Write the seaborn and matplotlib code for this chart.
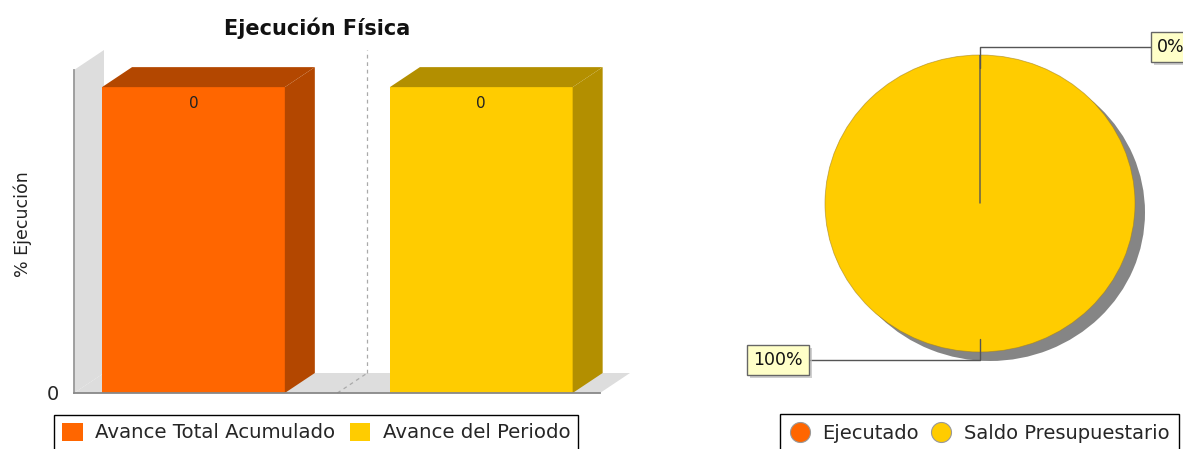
import numpy as np
import pandas as pd
import seaborn as sns
import matplotlib.pyplot as plt
import matplotlib.colors as mcolors
import matplotlib.patheffects as pe
from matplotlib.patches import Polygon, Patch, Circle
from matplotlib.lines import Line2D

# -------------------- Datos --------------------
series = ['Avance Total Acumulado', 'Avance del Periodo']
avance = [0, 0]                  # valor que se imprime sobre cada barra
altura_dibujada = [1.0, 1.0]     # el grafico original pinta las barras a tope (eje sin rango)
colores_barras = ['#FF6600', '#FFCC00']

conceptos = ['Ejecutado', 'Saldo Presupuestario']
porcentajes = [0, 100]
colores_pie = ['#FF6600', '#FFCC00']

# -------------------- Figura --------------------
W, H = 1183, 449
sns.set_style('white')
plt.rcParams['font.family'] = ['DejaVu Sans']
fig = plt.figure(figsize=(W / 100, H / 100), dpi=100)


def px_rect(x0, y0, x1, y1):
    # caja en pixeles (origen arriba a la izquierda) -> fraccion de figura
    return [x0 / W, 1 - y1 / H, (x1 - x0) / W, (y1 - y0) / H]


def oscurecer(c, f=0.7):
    r, g, b = mcolors.to_rgb(c)
    return (r * f, g * f, b * f)


# -------------------- Barras 3D --------------------
ax = fig.add_axes(px_rect(74, 70, 600, 393))
df = pd.DataFrame({'categoria': [''] * len(series), 'serie': series, 'altura': altura_dibujada})
sns.barplot(data=df, x='categoria', y='altura', hue='serie', palette=colores_barras,
            width=0.8, gap=0.365, saturation=1, legend=False, ax=ax, zorder=2,
            linewidth=0, edgecolor='none')
ax.set_xlim(-0.366, 0.365)
ax.set_ylim(0, 1.056)

# desplazamiento de profundidad: 30 px a la derecha, 20 px hacia arriba
x0, x1 = ax.get_xlim()
y0, y1 = ax.get_ylim()
pos = ax.get_position()
dx = 30 * (x1 - x0) / (pos.width * W)
dy = 20 * (y1 - y0) / (pos.height * H)

ax.add_patch(Polygon([(x0, y0), (x0, y1), (x0 + dx, y1 + dy), (x0 + dx, y0 + dy)],
                     fc='#DDDDDD', ec='none', clip_on=False, zorder=0.5))
ax.add_patch(Polygon([(x0, y0), (x1, y0), (x1 + dx, y0 + dy), (x0 + dx, y0 + dy)],
                     fc='#DDDDDD', ec='none', clip_on=False, zorder=0.5))

cat_x = ax.get_xticks()[0]
ax.plot([cat_x + dx, cat_x + dx], [y0 + dy, y1 + dy], ls=(0, (3, 3)), color='#AAAAAA',
        lw=0.9, clip_on=False, zorder=0.6)
ax.plot([cat_x, cat_x + dx], [y0, y0 + dy], ls=(0, (3, 3)), color='#AAAAAA',
        lw=0.9, clip_on=False, zorder=0.6)

for cont, color, v in zip(ax.containers, colores_barras, avance):
    osc = oscurecer(color)
    for rect in cont:
        bx0 = rect.get_x()
        bx1 = bx0 + rect.get_width()
        h = rect.get_height()
        ax.add_patch(Polygon([(bx1, 0), (bx1 + dx, dy), (bx1 + dx, h + dy), (bx1, h)],
                             fc=osc, ec='none', clip_on=False, zorder=2))
        ax.add_patch(Polygon([(bx0, h), (bx0 + dx, h + dy), (bx1 + dx, h + dy), (bx1, h)],
                             fc=osc, ec='none', clip_on=False, zorder=2))
    ax.bar_label(cont, labels=[str(v)], padding=-17, fontsize=11, color='#222222')

sns.despine(ax=ax, top=True, right=True)
ax.spines['bottom'].set_color('#888888')
ax.spines['bottom'].set_linewidth(1.3)
ax.spines['left'].set_color('#999999')
ax.spines['left'].set_linewidth(1.3)
ax.set_xticks([cat_x])
ax.set_xticklabels([''])
ax.set_yticks([0])
ax.set_yticklabels(['0'], fontsize=14)
ax.tick_params(axis='x', length=4, color='#888888', direction='out')
ax.tick_params(axis='y', length=0, pad=11)
ax.set_xlabel('')
ax.set_ylabel('')

fig.text(317 / W, 1 - 35 / H, 'Ejecución Física', ha='center', va='baseline',
         fontsize=15, fontweight='bold', color='#111111')
fig.text(23 / W, 1 - 224 / H, '% Ejecución', rotation=90, ha='center', va='center',
         fontsize=12.5, color='#222222')

leg1 = fig.legend([Patch(fc=c, ec='none') for c in colores_barras], series,
                  loc='upper left', bbox_to_anchor=(54 / W, 1 - 415 / H), ncol=2,
                  fontsize=14.2, frameon=True, fancybox=False, edgecolor='black',
                  framealpha=1, handlelength=1.05, handleheight=1.0, handletextpad=0.62,
                  columnspacing=0.75, borderpad=0.4, borderaxespad=0)
leg1.get_frame().set_linewidth(1.0)

# -------------------- Torta --------------------
cx, cy, rx, ry = 980, 203.5, 155, 148.5
axp = fig.add_axes(px_rect(cx - 1.3 * rx, cy - 1.3 * ry, cx + 1.3 * rx, cy + 1.3 * ry))

# sombra
axp.pie(porcentajes, colors=['#858585'] * len(porcentajes), startangle=90,
        counterclock=False, center=(10 / rx, -9 / ry), wedgeprops=dict(linewidth=0))
wedges, _ = axp.pie(porcentajes, colors=colores_pie, startangle=90, counterclock=False,
                    wedgeprops=dict(linewidth=0))
for w, p in zip(wedges, porcentajes):
    if p == 0:
        # porcion vacia: solo queda visible su borde radial
        w.set_edgecolor('#555555')
        w.set_linewidth(1.0)
        w.set_zorder(3)
axp.add_patch(Circle((0, 0), 1, fill=False, ec='#A08020', lw=0.6, alpha=0.6))
axp.set_aspect('auto')
axp.set_xlim(-1.3, 1.3)
axp.set_ylim(-1.3, 1.3)
axp.axis('off')

for w, p in zip(wedges, porcentajes):
    ang = np.deg2rad((w.theta1 + w.theta2) / 2)
    lado = 1 if np.sin(ang) > 0 else -1
    ix, iy = 0.91 * np.cos(ang), 0.91 * np.sin(ang)
    bx, by = 1.055 * np.cos(ang), 1.055 * np.sin(ang)
    axp.plot([ix, bx, 1.10 * lado], [iy, by, by], color='#555555', lw=1.0,
             clip_on=False, zorder=3)
    t = axp.text(1.142 * lado, by, f'{p}%', ha='left' if lado > 0 else 'right',
                 va='center', fontsize=12.5, color='#111111', zorder=4, clip_on=False,
                 bbox=dict(boxstyle='square,pad=0.35', fc='#FFFFC8', ec='#666666', lw=1.0))
    t.get_bbox_patch().set_path_effects([
        pe.SimplePatchShadow(offset=(2, -2), shadow_rgbFace='#BBBBBB', alpha=0.7),
        pe.Normal()])

leg2 = fig.legend([Line2D([], [], ls='none', marker='o', ms=14.4, mfc=c, mec='#999999', mew=0.8)
                   for c in colores_pie], conceptos,
                  loc='upper left', bbox_to_anchor=(780 / W, 1 - 414 / H), ncol=2,
                  fontsize=14, frameon=True, fancybox=False, edgecolor='black',
                  framealpha=1, handlelength=1.03, handletextpad=0.62, columnspacing=0.67,
                  borderpad=0.5, borderaxespad=0)
leg2.get_frame().set_linewidth(1.0)

fig.savefig('out.png', dpi=100)
